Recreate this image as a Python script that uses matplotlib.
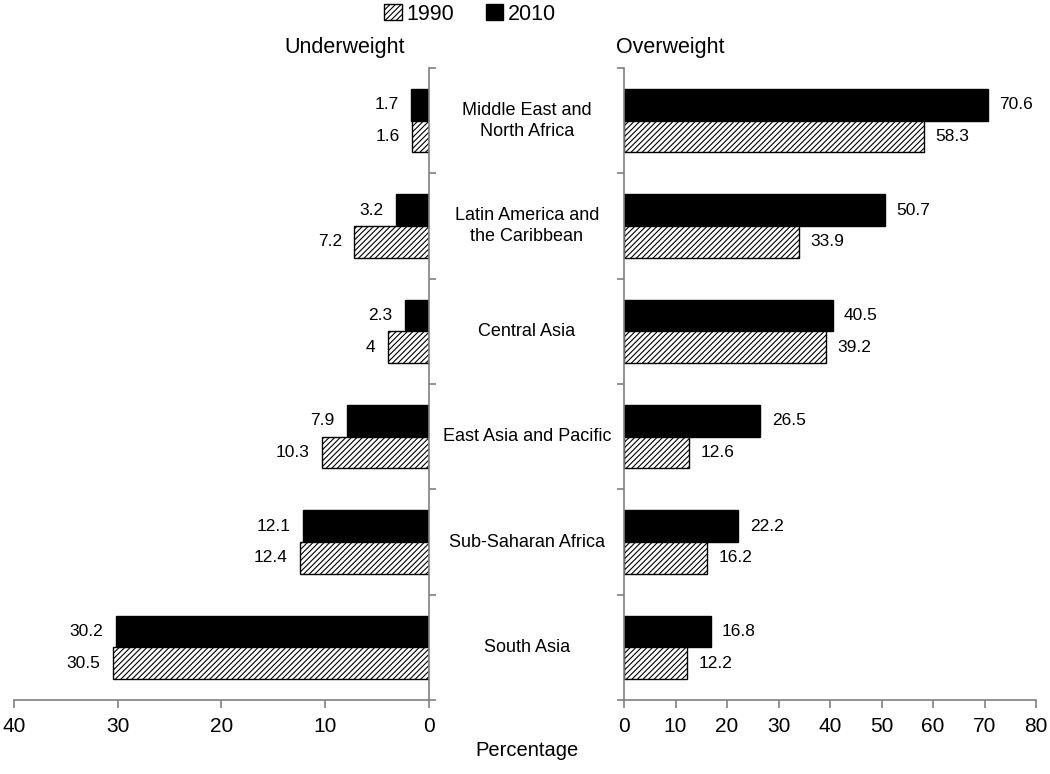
import numpy as np
import matplotlib.pyplot as plt
from matplotlib.patches import Patch
from matplotlib.transforms import blended_transform_factory

plt.rcParams['font.family'] = ['Liberation Sans', 'DejaVu Sans']
plt.rcParams['hatch.linewidth'] = 0.8

# Data
regions = ['Middle East and\nNorth Africa', 'Latin America and\nthe Caribbean', 'Central Asia',
           'East Asia and Pacific', 'Sub-Saharan Africa', 'South Asia']
under_1990 = [1.6, 7.2, 4, 10.3, 12.4, 30.5]
under_2010 = [1.7, 3.2, 2.3, 7.9, 12.1, 30.2]
over_1990 = [58.3, 33.9, 39.2, 12.6, 16.2, 12.2]
over_2010 = [70.6, 50.7, 40.5, 26.5, 22.2, 16.8]
under_ticks = [0, 10, 20, 30, 40]
over_ticks = [0, 10, 20, 30, 40, 50, 60, 70, 80]

fig = plt.figure(figsize=(10.5, 7.74), dpi=100)
ax_l = fig.add_axes([0.0133, 0.0956, 0.3953, 0.8165])
ax_r = fig.add_axes([0.5943, 0.0956, 0.3924, 0.8165])

y = np.arange(len(regions))
h = 0.3
spine_col = '#808080'


def style_axis(ax, side):
    for s in ['top', 'left', 'right']:
        ax.spines[s].set_visible(False)
    ax.spines[side].set_visible(True)
    for s in ['bottom', side]:
        ax.spines[s].set_color(spine_col)
        ax.spines[s].set_linewidth(1.2)
    ax.set_ylim(len(regions) - 0.5, -0.5)
    ax.set_yticks(np.arange(len(regions) + 1) - 0.5)
    ax.set_yticklabels([])
    ax.tick_params(axis='y', direction='out', length=5, color=spine_col, width=1.2)
    ax.tick_params(axis='x', direction='out', length=6, color=spine_col, width=1.2,
                   labelsize=15, pad=6)
    if side == 'right':
        ax.yaxis.tick_right()
    else:
        ax.yaxis.tick_left()


# Underweight (left, reversed x)
ax_l.barh(y - h / 2, under_2010, height=h, color='black', edgecolor='black')
ax_l.barh(y + h / 2, under_1990, height=h, color='white', edgecolor='black', hatch='//////', lw=1)
ax_l.set_xlim(40, 0)
ax_l.set_xticks(under_ticks)
style_axis(ax_l, 'right')
for i in range(len(regions)):
    ax_l.text(under_2010[i] + 1.2, y[i] - h / 2, f'{under_2010[i]:g}', ha='right', va='center', fontsize=12.5)
    ax_l.text(under_1990[i] + 1.2, y[i] + h / 2, f'{under_1990[i]:g}', ha='right', va='center', fontsize=12.5)

# Overweight (right)
ax_r.barh(y - h / 2, over_2010, height=h, color='black', edgecolor='black')
ax_r.barh(y + h / 2, over_1990, height=h, color='white', edgecolor='black', hatch='//////', lw=1)
ax_r.set_xlim(0, 80)
ax_r.set_xticks(over_ticks)
style_axis(ax_r, 'left')
for i in range(len(regions)):
    ax_r.text(over_2010[i] + 2.2, y[i] - h / 2, f'{over_2010[i]:g}', ha='left', va='center', fontsize=12.5)
    ax_r.text(over_1990[i] + 2.2, y[i] + h / 2, f'{over_1990[i]:g}', ha='left', va='center', fontsize=12.5)

# Category labels in the middle
trans = blended_transform_factory(fig.transFigure, ax_l.transData)
for i, name in enumerate(regions):
    fig.text(527 / 1050, y[i], name, transform=trans, ha='center', va='center',
             fontsize=13, linespacing=1.3)

# Titles and axis label
fig.text(345 / 1050, 1 - 47 / 774, 'Underweight', ha='center', va='center', fontsize=15.5)
fig.text(670 / 1050, 1 - 47 / 774, 'Overweight', ha='center', va='center', fontsize=15.5)
fig.text(527 / 1050, 1 - 750 / 774, 'Percentage', ha='center', va='center', fontsize=14.5)

handles = [Patch(facecolor='white', edgecolor='black', hatch='//////', label='1990'),
           Patch(facecolor='black', edgecolor='black', label='2010')]
fig.legend(handles=handles, loc='center', bbox_to_anchor=(470 / 1050, 1 - 14 / 774), ncol=2,
           frameon=False, fontsize=15.5, handlelength=0.8, handleheight=0.8, handletextpad=0.2,
           columnspacing=1.5, borderpad=0)

fig.savefig('out.png', dpi=100)
